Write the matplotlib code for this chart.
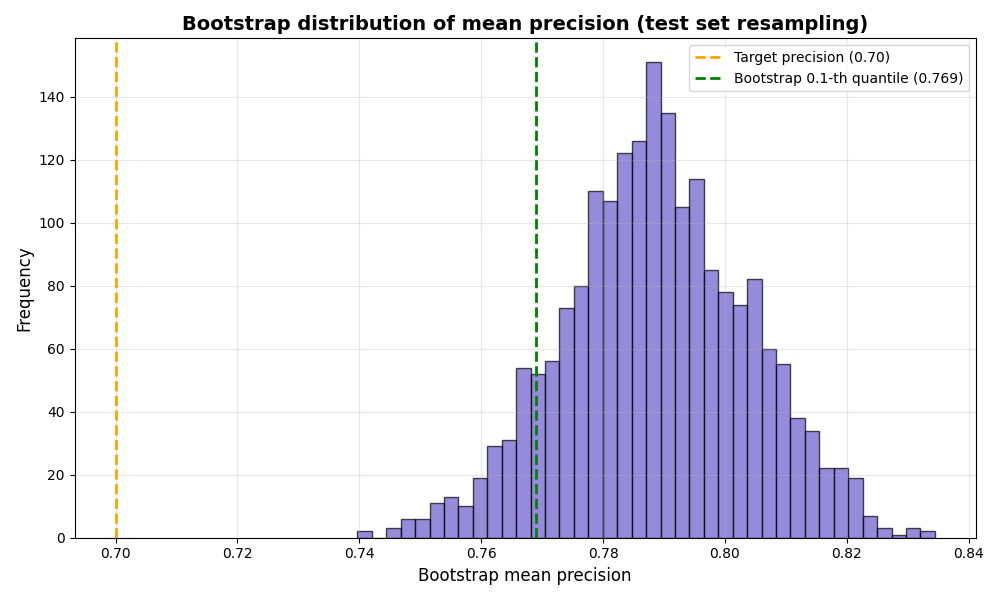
import matplotlib
matplotlib.use("Agg")
import matplotlib.pyplot as plt
import numpy as np

# bin counts (40 bins)
counts = [2, 0, 3, 6, 6, 11, 13, 10, 19, 29, 31, 54, 52, 56, 73, 80, 110, 107, 122, 126,
          151, 135, 105, 114, 85, 78, 74, 82, 60, 55, 38, 34, 22, 22, 19, 7, 3, 1, 3, 2]
bin_lo = 0.73967
bin_hi = 0.83446
target = 0.70
quantile = 0.769

edges = np.linspace(bin_lo, bin_hi, len(counts) + 1)
centers = (edges[:-1] + edges[1:]) / 2

plt.figure(figsize=(10, 6))
plt.hist(centers, bins=edges, weights=counts, color='slateblue', alpha=0.7, edgecolor='black')
plt.axvline(target, color='orange', linestyle='--', linewidth=2, label=f'Target precision ({target:.2f})')
plt.axvline(quantile, color='green', linestyle='--', linewidth=2,
            label=f'Bootstrap 0.1-th quantile ({quantile:.3f})')
plt.title('Bootstrap distribution of mean precision (test set resampling)', fontsize=14, fontweight='bold')
plt.xlabel('Bootstrap mean precision', fontsize=12)
plt.ylabel('Frequency', fontsize=12)
plt.legend()
plt.grid(True, alpha=0.3)
plt.tight_layout()
plt.savefig('out.png', dpi=100)
